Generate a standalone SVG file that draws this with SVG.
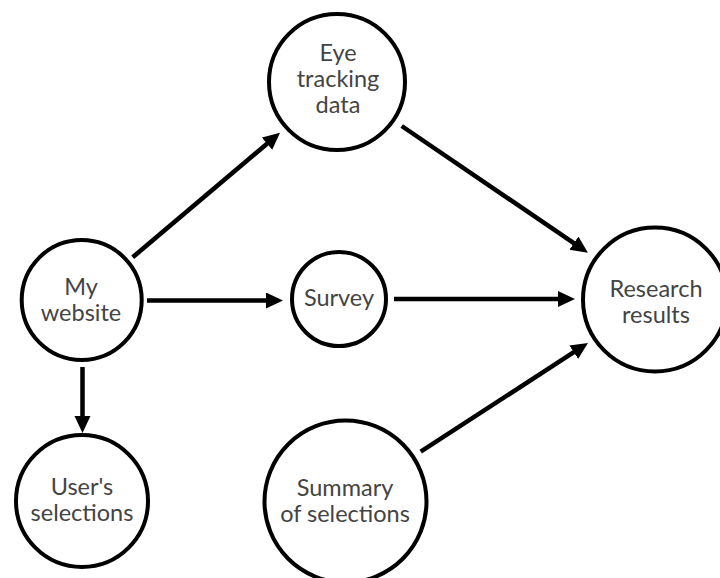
<svg xmlns="http://www.w3.org/2000/svg" width="720" height="578" viewBox="0 0 720 578">
<style>
.node circle{fill:#fff;stroke:#000;stroke-width:4}
.node text{font-family:Lato,"Liberation Sans",sans-serif;font-size:23.5px;fill:#444;text-anchor:middle}
.edge{stroke:#000;stroke-width:4.5;fill:none;marker-end:url(#ah)}
</style>
<defs>
<marker id="ah" markerUnits="userSpaceOnUse" markerWidth="18" markerHeight="17" refX="7" refY="8" orient="auto">
<path d="M0,0 L17,8 L0,16 z" fill="#000"/>
</marker>
</defs>
<rect width="720" height="578" fill="#fff"/>
<g id="connectors">
<line class="edge" x1="132.7" y1="257.3" x2="272.4" y2="139.2"/>
<line class="edge" x1="401.7" y1="126" x2="579.7" y2="247.1"/>
<line class="edge" x1="420.7" y1="451.7" x2="579.6" y2="348.4"/>
<line class="edge" x1="147" y1="300.5" x2="273" y2="300.5"/>
<line class="edge" x1="394" y1="299" x2="565" y2="299"/>
<line class="edge" x1="82.5" y1="367" x2="82.5" y2="423"/>
</g>
<g id="eye" class="node">
<circle cx="337" cy="82" r="68"/>
<text x="338" y="61">Eye</text>
<text x="338" y="87">tracking</text>
<text x="338" y="113">data</text>
</g>
<g id="website" class="node">
<circle cx="81.7" cy="300" r="60"/>
<text x="81" y="295">My</text>
<text x="81" y="321">website</text>
</g>
<g id="survey" class="node">
<circle cx="339" cy="299" r="47"/>
<text x="339" y="306">Survey</text>
</g>
<g id="research" class="node">
<circle cx="655" cy="299.5" r="72"/>
<text x="656" y="297">Research</text>
<text x="656" y="323">results</text>
</g>
<g id="users" class="node">
<circle cx="82" cy="501" r="66"/>
<text x="82" y="495">User's</text>
<text x="82" y="521">selections</text>
</g>
<g id="summary" class="node">
<circle cx="345.5" cy="501.5" r="81"/>
<text x="345" y="496">Summary</text>
<text x="345" y="522">of selections</text>
</g>
</svg>
